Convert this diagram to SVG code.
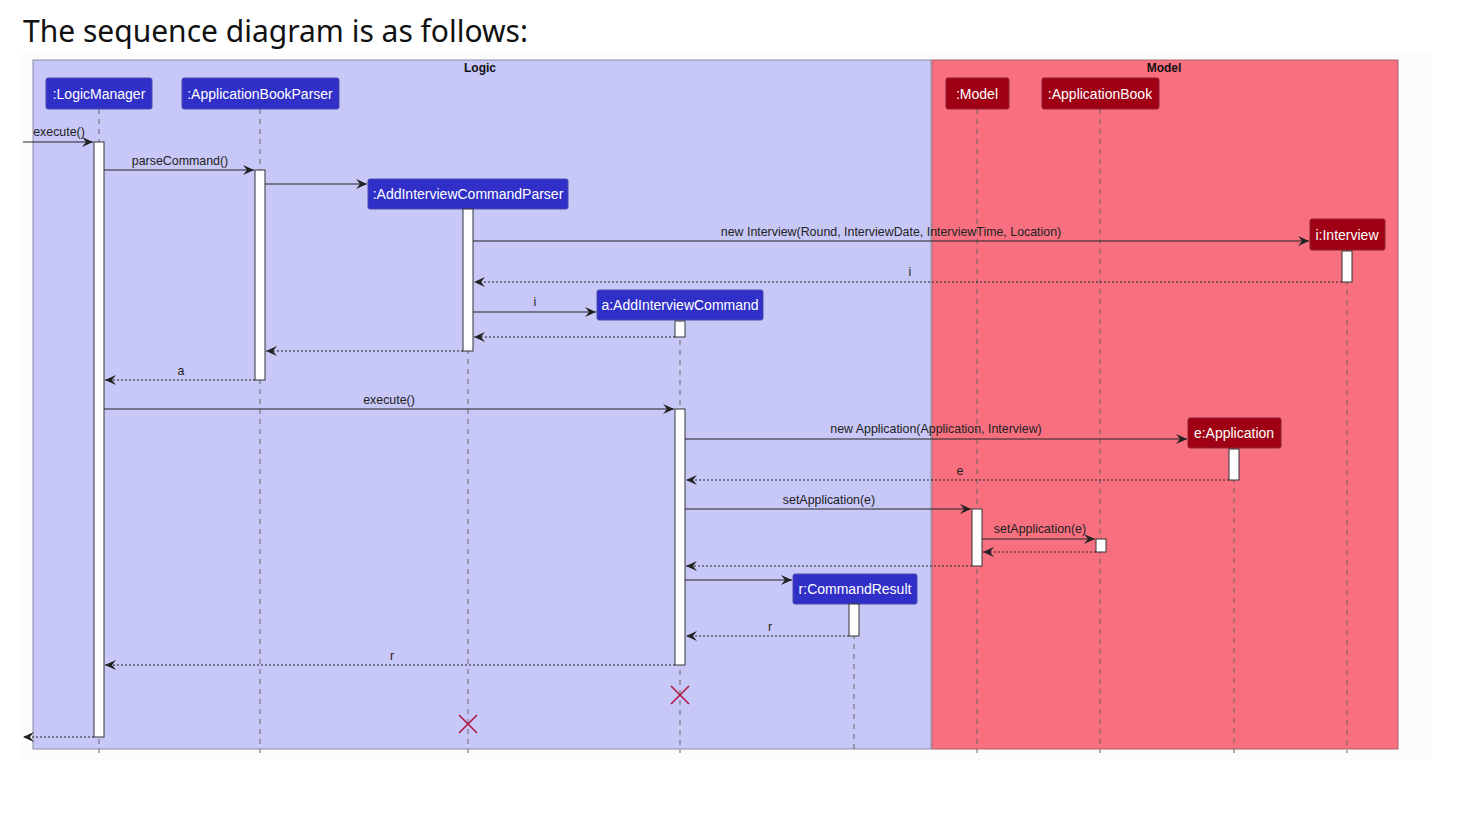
<svg xmlns="http://www.w3.org/2000/svg" width="1458" height="822" viewBox="0 0 1458 822">
<style>
.title{font-family:"Noto Sans","Open Sans",sans-serif;font-size:30px;fill:#111}
.box{font-family:"Liberation Sans",Arial,sans-serif;font-size:12px;font-weight:bold;fill:#111;text-anchor:middle}
.pl{font-family:"Liberation Sans",Arial,sans-serif;font-size:14px;fill:#fff;text-anchor:middle}
.lbl{font-family:"Liberation Sans",Arial,sans-serif;font-size:12.4px;fill:#222;text-anchor:middle}
.pb{fill:#3030C8;stroke:#4a4ab0;stroke-width:1}
.pr{fill:#A00014;stroke:#8a2030;stroke-width:1}
.life{stroke:#666;stroke-width:1;stroke-dasharray:5,5}
.act{fill:#fff;stroke:#333;stroke-width:1}
.msg{stroke:#222;stroke-width:1;fill:none;marker-end:url(#ah)}
.ret{stroke:#222;stroke-width:1;fill:none;stroke-dasharray:2,2;marker-end:url(#ah)}
.x{stroke:#B0163E;stroke-width:1.6}
</style>
<defs>
<marker id="ah" markerWidth="12" markerHeight="10" refX="11" refY="5" orient="auto" markerUnits="userSpaceOnUse">
<polygon points="0,0 11,5 0,10 4,5" fill="#222"/>
</marker>
</defs>
<rect width="1458" height="822" fill="#fff"/>
<rect x="22" y="52" width="1410" height="708" fill="#fcfcfc"/>
<text class="title" x="23" y="42" textLength="505" lengthAdjust="spacingAndGlyphs">The sequence diagram is as follows:</text>

<g id="box-logic">
<rect x="33" y="60" width="898" height="689" fill="#C8C8F8" stroke="#8a8aa8" stroke-width="1"/>
<text class="box" x="480" y="72">Logic</text>
</g>
<g id="box-model">
<rect x="932" y="60" width="466" height="689" fill="#F87080" stroke="#a86070" stroke-width="1"/>
<text class="box" x="1164" y="72">Model</text>
</g>

<g id="lifelines">
<line class="life" x1="99" y1="109" x2="99" y2="753"/>
<line class="life" x1="260" y1="109" x2="260" y2="753"/>
<line class="life" x1="468" y1="209" x2="468" y2="753"/>
<line class="life" x1="680" y1="320" x2="680" y2="753"/>
<line class="life" x1="854" y1="604" x2="854" y2="753"/>
<line class="life" x1="977" y1="109" x2="977" y2="753"/>
<line class="life" x1="1100" y1="109" x2="1100" y2="753"/>
<line class="life" x1="1234" y1="448" x2="1234" y2="753"/>
<line class="life" x1="1347" y1="250" x2="1347" y2="753"/>
</g>

<g id="p-logicmanager"><rect class="pb" x="46" y="78" width="106" height="31" rx="2"/><text class="pl" x="99" y="99">:LogicManager</text></g>
<g id="p-abparser"><rect class="pb" x="182" y="78" width="157" height="31" rx="2"/><text class="pl" x="260" y="99">:ApplicationBookParser</text></g>
<g id="p-aicparser"><rect class="pb" x="368" y="179" width="200" height="30" rx="2"/><text class="pl" x="468" y="199">:AddInterviewCommandParser</text></g>
<g id="p-aic"><rect class="pb" x="597" y="290" width="166" height="30" rx="2"/><text class="pl" x="680" y="310">a:AddInterviewCommand</text></g>
<g id="p-cr"><rect class="pb" x="793" y="574" width="124" height="30" rx="2"/><text class="pl" x="855" y="594">r:CommandResult</text></g>
<g id="p-model"><rect class="pr" x="946" y="78" width="63" height="31" rx="2"/><text class="pl" x="977" y="99">:Model</text></g>
<g id="p-appbook"><rect class="pr" x="1042" y="78" width="117" height="31" rx="2"/><text class="pl" x="1100" y="99">:ApplicationBook</text></g>
<g id="p-interview"><rect class="pr" x="1310" y="219" width="75" height="31" rx="2"/><text class="pl" x="1347" y="240">i:Interview</text></g>
<g id="p-application"><rect class="pr" x="1188" y="418" width="93" height="30" rx="2"/><text class="pl" x="1234" y="438">e:Application</text></g>

<g id="activations">
<rect class="act" x="94" y="142" width="10" height="595"/>
<rect class="act" x="255" y="170" width="10" height="210"/>
<rect class="act" x="463" y="209" width="10" height="142"/>
<rect class="act" x="1342" y="251" width="10" height="31"/>
<rect class="act" x="675" y="321" width="10" height="16"/>
<rect class="act" x="675" y="409" width="10" height="256"/>
<rect class="act" x="1229" y="449" width="10" height="31"/>
<rect class="act" x="972" y="509" width="10" height="57"/>
<rect class="act" x="1096" y="539" width="10" height="13"/>
<rect class="act" x="849" y="604" width="10" height="32"/>
</g>

<g id="connectors">
<line class="msg" x1="23" y1="142" x2="93" y2="142"/>
<text class="lbl" x="59" y="136">execute()</text>
<line class="msg" x1="104" y1="170" x2="254" y2="170"/>
<text class="lbl" x="180" y="165">parseCommand()</text>
<line class="msg" x1="265" y1="184" x2="367" y2="184"/>
<line class="msg" x1="473" y1="241" x2="1309" y2="241"/>
<text class="lbl" x="891" y="236">new Interview(Round, InterviewDate, InterviewTime, Location)</text>
<line class="ret" x1="1342" y1="282" x2="474" y2="282"/>
<text class="lbl" x="910" y="276">i</text>
<line class="msg" x1="473" y1="312" x2="596" y2="312"/>
<text class="lbl" x="535" y="306">i</text>
<line class="ret" x1="675" y1="337" x2="474" y2="337"/>
<line class="ret" x1="463" y1="351" x2="266" y2="351"/>
<line class="ret" x1="255" y1="380" x2="105" y2="380"/>
<text class="lbl" x="181" y="375">a</text>
<line class="msg" x1="104" y1="409" x2="674" y2="409"/>
<text class="lbl" x="389" y="404">execute()</text>
<line class="msg" x1="685" y1="439" x2="1187" y2="439"/>
<text class="lbl" x="936" y="433">new Application(Application, Interview)</text>
<line class="ret" x1="1229" y1="480" x2="686" y2="480"/>
<text class="lbl" x="960" y="475">e</text>
<line class="msg" x1="685" y1="509" x2="971" y2="509"/>
<text class="lbl" x="829" y="504">setApplication(e)</text>
<line class="msg" x1="982" y1="539" x2="1095" y2="539"/>
<text class="lbl" x="1040" y="533">setApplication(e)</text>
<line class="ret" x1="1096" y1="552" x2="983" y2="552"/>
<line class="ret" x1="972" y1="566" x2="686" y2="566"/>
<line class="msg" x1="685" y1="580" x2="792" y2="580"/>
<line class="ret" x1="849" y1="636" x2="686" y2="636"/>
<text class="lbl" x="770" y="631">r</text>
<line class="ret" x1="675" y1="665" x2="105" y2="665"/>
<text class="lbl" x="392" y="660">r</text>
<line class="ret" x1="94" y1="737" x2="23" y2="737"/>
</g>

<g id="destroy">
<line class="x" x1="459" y1="715" x2="477" y2="733"/><line class="x" x1="477" y1="715" x2="459" y2="733"/>
<line class="x" x1="671" y1="686" x2="689" y2="704"/><line class="x" x1="689" y1="686" x2="671" y2="704"/>
</g>
</svg>
